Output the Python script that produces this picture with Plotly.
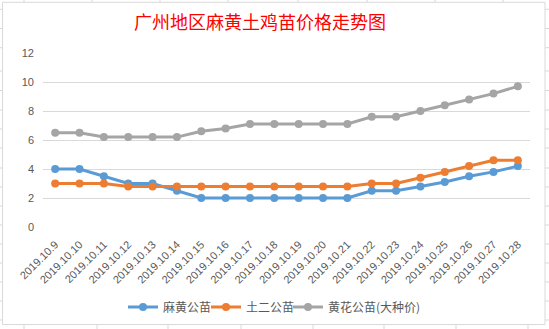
import plotly.graph_objects as go

dates = ["2019.10.9", "2019.10.10", "2019.10.11", "2019.10.12", "2019.10.13",
         "2019.10.14", "2019.10.15", "2019.10.16", "2019.10.17", "2019.10.18",
         "2019.10.19", "2019.10.20", "2019.10.21", "2019.10.22", "2019.10.23",
         "2019.10.24", "2019.10.25", "2019.10.26", "2019.10.27", "2019.10.28"]
mahuang = [4.0, 4.0, 3.5, 3.0, 3.0, 2.5, 2.0, 2.0, 2.0, 2.0,
           2.0, 2.0, 2.0, 2.5, 2.5, 2.8, 3.1, 3.5, 3.8, 4.2]
tuer = [3.0, 3.0, 3.0, 2.8, 2.8, 2.8, 2.8, 2.8, 2.8, 2.8,
        2.8, 2.8, 2.8, 3.0, 3.0, 3.4, 3.8, 4.2, 4.6, 4.6]
huanghua = [6.5, 6.5, 6.2, 6.2, 6.2, 6.2, 6.6, 6.8, 7.1, 7.1,
            7.1, 7.1, 7.1, 7.6, 7.6, 8.0, 8.4, 8.8, 9.2, 9.7]
names = ["麻黄公苗", "土二公苗", "黄花公苗(大种价)"]
colors = ["#5B9BD5", "#ED7D31", "#A5A5A5"]
yticks = [0, 2, 4, 6, 8, 10, 12]

W, H = 549, 329
L, R, T, B = 43, 530, 53, 227

def px2paper_x(px):
    return (px - L) / (R - L)

def px2paper_y(py):
    return (B - py) / (B - T)

legend_ids = ["legend", "legend2", "legend3"]
legend_starts = [128, 211, 293]

fig = go.Figure()
for vals, nm, c, lid in zip([mahuang, tuer, huanghua], names, colors, legend_ids):
    fig.add_trace(go.Scatter(x=dates, y=vals, name=nm, mode="lines+markers",
                             line=dict(color=c, width=3),
                             marker=dict(color=c, size=8), legend=lid))

gray = "#D9D9D9"
shapes = []
shapes.append(dict(type="rect", xref="paper", yref="paper",
                   x0=px2paper_x(2.5), x1=px2paper_x(545),
                   y0=px2paper_y(324.5), y1=px2paper_y(2.3),
                   line=dict(color=gray, width=1), fillcolor="rgba(0,0,0,0)"))
for cx in [24, 92, 160, 228, 298, 367, 435, 503]:
    shapes.append(dict(type="line", xref="paper", yref="paper",
                       x0=px2paper_x(cx), x1=px2paper_x(cx),
                       y0=px2paper_y(0), y1=px2paper_y(2.3),
                       line=dict(color=gray, width=1)))
for cx in [24, 97, 168, 241, 313, 384, 456, 528]:
    shapes.append(dict(type="line", xref="paper", yref="paper",
                       x0=px2paper_x(cx), x1=px2paper_x(cx),
                       y0=px2paper_y(324.5), y1=px2paper_y(329),
                       line=dict(color=gray, width=1)))
for ry in [9.3, 28.5, 47.7, 71, 90.5, 110, 129, 148, 168, 187, 206, 225,
           244, 263, 282, 301, 320]:
    for xa, xb in [(0, 2.5), (545, 549)]:
        shapes.append(dict(type="line", xref="paper", yref="paper",
                           x0=px2paper_x(xa), x1=px2paper_x(xb),
                           y0=px2paper_y(ry), y1=px2paper_y(ry),
                           line=dict(color=gray, width=1)))

legend_font = dict(family="Noto Sans CJK SC", size=12, color="#595959")
legends = {}
for lid, sx in zip(legend_ids, legend_starts):
    legends[lid] = dict(orientation="h", x=px2paper_x(sx - 5), xanchor="left",
                        y=px2paper_y(307), yanchor="middle", font=legend_font,
                        itemwidth=30, bgcolor="rgba(0,0,0,0)")

fig.update_layout(
    width=W, height=H,
    margin=dict(l=L, r=W - R, t=T, b=H - B, pad=0, autoexpand=False),
    paper_bgcolor="white", plot_bgcolor="white",
    title=dict(text="广州地区麻黄土鸡苗价格走势图",
               font=dict(family="Noto Sans CJK SC", size=18, color="#FF0000"),
               x=260 / W, xanchor="center", y=1 - 23 / H, yanchor="middle",
               xref="container", yref="container"),
    xaxis=dict(type="category", range=[-0.5, len(dates) - 0.5],
               showgrid=False, showline=False, zeroline=False, ticks="",
               tickangle=-45, ticklabelstandoff=8, automargin=False,
               tickfont=dict(family="Liberation Sans", size=11, color="#595959")),
    yaxis=dict(range=[0, 12], tickvals=yticks, showgrid=True, gridcolor=gray,
               gridwidth=1, zeroline=False, showline=False, ticks="",
               ticklabelstandoff=8, automargin=False,
               tickfont=dict(family="Liberation Sans", size=11, color="#595959")),
    shapes=shapes,
    showlegend=True,
    **legends,
)

fig.write_html("out.html")
